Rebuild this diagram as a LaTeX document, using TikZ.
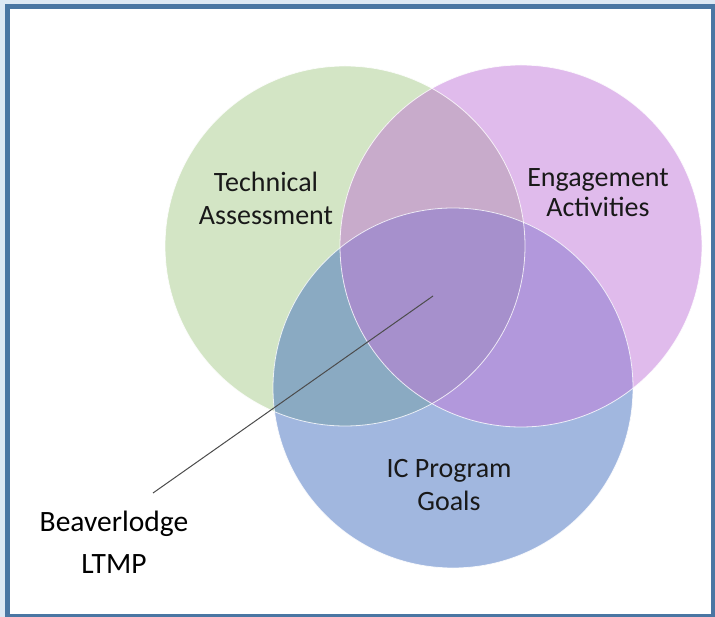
\documentclass[tikz,border=0pt]{standalone}
\usepackage{fontspec}
\setmainfont{Carlito}
\definecolor{frameout}{HTML}{DDE8F4}
\definecolor{framedark}{HTML}{4A76A3}
\definecolor{cG}{HTML}{D3E5C5}
\definecolor{cP}{HTML}{E0BBEC}
\definecolor{cB}{HTML}{A1B7DF}
\definecolor{cGP}{HTML}{C8ABCB}
\definecolor{cGB}{HTML}{8AAAC2}
\definecolor{cPB}{HTML}{B298DC}
\definecolor{cGPB}{HTML}{A690CC}
\tikzset{
  lbl/.style={anchor=base, inner sep=0pt, font=\fontsize{28}{32}\selectfont, text=black!90},
  biglbl/.style={anchor=base, inner sep=0pt, font=\fontsize{29.5}{34}\selectfont, text=black},
  rim/.style={draw=white, line width=0.8pt, opacity=0.8},
  leader/.style={draw=black!70, line width=1pt}
}
\begin{document}
\begin{tikzpicture}[x=1pt,y=-1pt]
\useasboundingbox (0,0) rectangle (715,617);
% frame
\fill[frameout] (0,0) rectangle (715,617);
\fill[framedark] (5,4) rectangle (715,617);
\fill[white] (10,9) rectangle (711,614);
% circles
\def\Gc{(345,246) circle[radius=180]}
\def\Pc{(521,246) circle[radius=181]}
\def\Bc{(453,388) circle[radius=180]}
\fill[cG] \Gc;
\fill[cP] \Pc;
\fill[cB] \Bc;
\begin{scope}\clip \Gc; \fill[cGP] \Pc; \end{scope}
\begin{scope}\clip \Gc; \fill[cGB] \Bc; \end{scope}
\begin{scope}\clip \Pc; \fill[cPB] \Bc; \end{scope}
\begin{scope}\clip \Gc; \clip \Pc; \fill[cGPB] \Bc; \end{scope}
\draw[rim] \Gc;
\draw[rim] \Pc;
\draw[rim] \Bc;
% labels
\node[lbl] (tech1) at (266,192) {Technical};
\node[lbl] (tech2) at (266,225) {Assessment};
\node[lbl] (eng1) at (598,187) {Engagement};
\node[lbl] (eng2) at (598,217) {Activities};
\node[lbl] (ic1) at (449,478) {IC Program};
\node[lbl] (ic2) at (449,510) {Goals};
\node[biglbl] (bea1) at (114,531) {Beaverlodge};
\node[biglbl] (bea2) at (114,573) {LTMP};
% leader line
\coordinate (lineA) at (433,296);
\coordinate (lineB) at (153,493);
\draw[leader] (lineA) -- (lineB);
\end{tikzpicture}
\end{document}
